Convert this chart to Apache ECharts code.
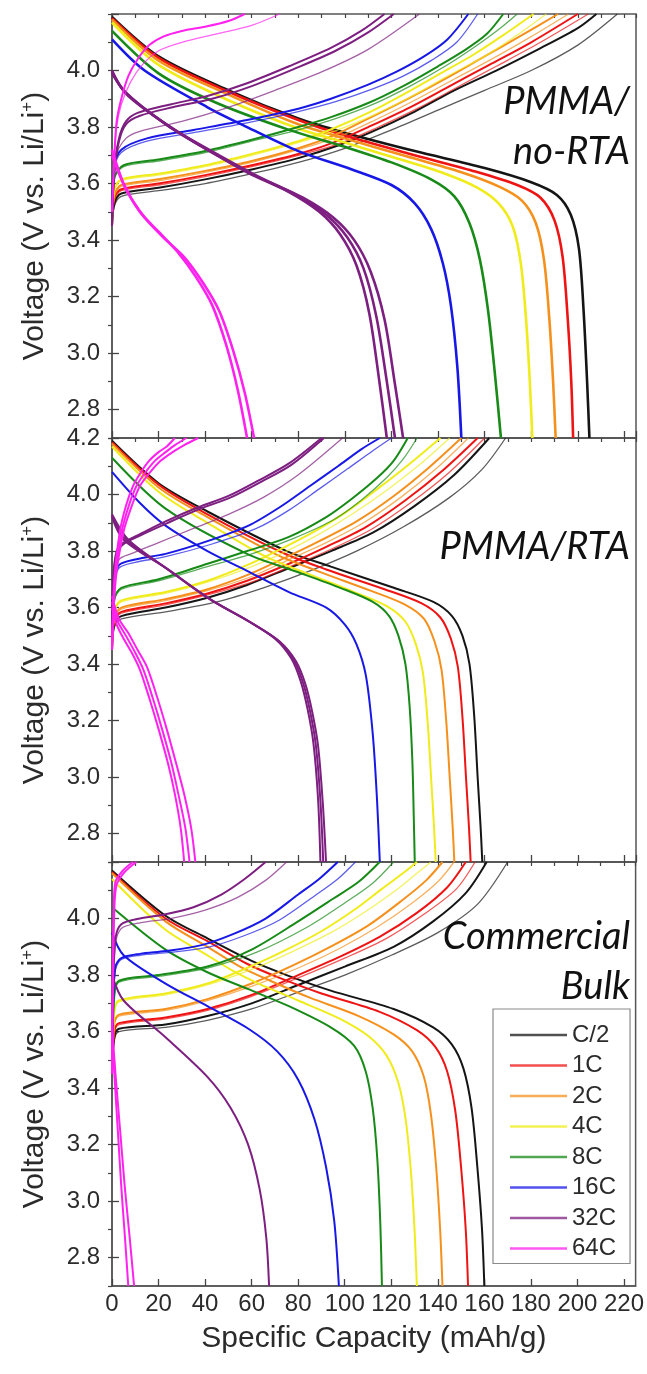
<!DOCTYPE html>
<html>
<head>
<meta charset="utf-8">
<script src="https://cdn.jsdelivr.net/npm/echarts@6/dist/echarts.min.js"></script>
<style>
  html, body { margin: 0; padding: 0; background: #ffffff; }
  #chart { width: 647px; height: 1374px; }
</style>
</head>
<body>
<div id="chart"></div>
<script>
// C-rate series shown in every panel
const RATES = ['C/2', '1C', '2C', '4C', '8C', '16C', '32C', '64C'];
const RATE_COLORS = ['#151515', '#ee1414', '#f5901c', '#f0ec1c', '#178a17', '#1818e6', '#7d1f80', '#ff22ee'];
const PANEL_TITLES = [['PMMA/', 'no-RTA'], ['PMMA/RTA'], ['Commercial', 'Bulk']];
const X_TICKS = [0, 20, 40, 60, 80, 100, 120, 140, 160, 180, 200, 220];
const Y_MAJOR = [2.8, 3.0, 3.2, 3.4, 3.6, 3.8, 4.0, 4.2];

// ---- PMMA / no-RTA : [capacity mAh/g, voltage V] ----
const noRtaDischarge = [
  [[[0,4.19],[20,4.05],[50,3.93],[80,3.83],[100,3.78],[130,3.715],[160,3.655],[180,3.605],[191,3.56],[197,3.49],[200.5,3.37],[202.5,3.15],[204,2.9],[205,2.7]]],
  [[[0,4.185],[20,4.045],[50,3.925],[80,3.825],[100,3.77],[128,3.705],[155,3.645],[174,3.595],[184,3.55],[190,3.47],[193.5,3.34],[195.7,3.12],[197.2,2.9],[198,2.7]]],
  [[[0,4.18],[20,4.035],[50,3.915],[80,3.81],[100,3.76],[125,3.7],[150,3.64],[166,3.59],[176,3.54],[182,3.46],[185.5,3.33],[187.8,3.12],[189.4,2.9],[190.5,2.7]]],
  [[[0,4.17],[20,4.02],[50,3.895],[80,3.795],[100,3.745],[120,3.695],[143,3.635],[157,3.585],[166,3.53],[172,3.45],[175.5,3.32],[177.8,3.12],[179.4,2.9],[180.5,2.7]]],
  [[[0,4.14],[20,3.99],[45,3.885],[76,3.79],[100,3.73],[120,3.675],[137,3.615],[147,3.555],[153.5,3.46],[158,3.33],[161.5,3.15],[164.5,2.92],[167,2.7]]],
  [[[0,4.11],[14,4.0],[41,3.87],[58,3.8],[80,3.715],[103,3.65],[120,3.595],[130,3.53],[137,3.44],[142,3.32],[145.5,3.17],[148.3,2.95],[150,2.7]]],
  [
    [[0,4.0],[5,3.93],[23,3.81],[41,3.72],[58,3.64],[76,3.57],[89,3.5],[98,3.42],[105,3.31],[110.5,3.14],[114.8,2.9],[118,2.7]],
    [[0,3.995],[6,3.92],[25,3.8],[43,3.71],[61,3.63],[79,3.56],[92,3.49],[101,3.41],[108,3.3],[113.5,3.13],[118,2.9],[121.5,2.7]],
    [[0,3.99],[7,3.91],[27,3.79],[46,3.7],[64,3.62],[82,3.55],[95,3.48],[104,3.4],[111,3.29],[117,3.12],[121.5,2.89],[125,2.7]]
  ],
  [
    [[0,3.72],[5,3.6],[12,3.5],[20,3.43],[28,3.36],[36,3.27],[43,3.17],[49,3.03],[54,2.87],[58,2.7]],
    [[0,3.7],[6,3.58],[14,3.48],[22,3.41],[31,3.34],[39,3.25],[46,3.15],[52,3.01],[57,2.86],[61,2.7]]
  ]
];
const noRtaCharge = [
  [[[0,3.45],[1,3.53],[4,3.565],[20,3.585],[40,3.615],[60,3.65],[80,3.69],[97,3.735],[112,3.785],[130,3.855],[147,3.93],[165,4.0],[183,4.075],[200,4.15],[208,4.2]]],
  [[[0,3.45],[1,3.55],[4,3.58],[20,3.6],[40,3.63],[60,3.665],[80,3.705],[95,3.745],[110,3.8],[128,3.87],[145,3.945],[162,4.02],[180,4.1],[200,4.2]]],
  [[[0,3.45],[1,3.56],[4,3.595],[20,3.615],[40,3.645],[60,3.68],[80,3.725],[95,3.77],[110,3.83],[127,3.9],[144,3.975],[160,4.05],[176,4.125],[191.5,4.2]]],
  [[[0,3.45],[1,3.58],[4,3.615],[20,3.635],[40,3.665],[60,3.705],[80,3.75],[95,3.795],[110,3.85],[125,3.915],[140,3.985],[155,4.055],[168,4.125],[181,4.2]]],
  [[[0,3.45],[1,3.62],[5,3.665],[20,3.685],[40,3.715],[60,3.755],[80,3.8],[94,3.835],[110,3.885],[125,3.945],[140,4.015],[152,4.075],[161,4.13],[168,4.2]]],
  [[[0,3.45],[1,3.66],[4,3.72],[15,3.76],[35,3.79],[58,3.825],[80,3.865],[94,3.9],[110,3.95],[122,3.995],[134,4.05],[144,4.11],[153,4.2]]],
  [
    [[0,3.45],[1,3.65],[3,3.76],[6,3.82],[11,3.85],[25,3.88],[41,3.91],[58,3.955],[76,4.015],[94,4.08],[107,4.14],[117,4.2]],
    [[0,3.45],[1,3.64],[3,3.75],[6,3.81],[12,3.84],[26,3.87],[43,3.9],[60,3.945],[78,4.005],[96,4.07],[110,4.135],[121,4.2]]
  ],
  [[[0,3.5],[1,3.7],[2,3.82],[4,3.9],[7,3.98],[11,4.04],[16,4.09],[22,4.12],[30,4.14],[40,4.155],[50,4.175],[57,4.2]]]
];
const noRtaChargeFirst = [
  [[[0,3.45],[1,3.52],[4,3.555],[20,3.575],[40,3.6],[60,3.635],[80,3.675],[100,3.725],[120,3.79],[140,3.86],[160,3.93],[180,4.0],[200,4.09],[217,4.2]]],
  [[[0,3.45],[1,3.54],[4,3.575],[20,3.595],[40,3.625],[60,3.66],[80,3.7],[97,3.74],[113,3.795],[131,3.865],[148,3.94],[165,4.015],[184,4.1],[204.5,4.2]]],
  [[[0,3.45],[1,3.555],[4,3.59],[20,3.61],[40,3.64],[60,3.675],[80,3.72],[97,3.765],[113,3.825],[130,3.895],[147,3.97],[164,4.045],[180,4.12],[196,4.2]]],
  [[[0,3.45],[1,3.575],[4,3.61],[20,3.63],[40,3.66],[60,3.7],[80,3.745],[97,3.79],[113,3.845],[129,3.91],[144,3.98],[160,4.05],[173,4.12],[186.5,4.2]]],
  [[[0,3.45],[1,3.615],[5,3.66],[20,3.68],[40,3.71],[60,3.75],[80,3.79],[96,3.83],[112,3.88],[128,3.945],[143,4.015],[156,4.085],[166,4.145],[174,4.2]]],
  [[[0,3.45],[1,3.65],[4,3.71],[15,3.75],[35,3.78],[58,3.815],[80,3.855],[96,3.89],[112,3.935],[125,3.98],[137,4.035],[148,4.1],[157,4.2]]],
  [[[0,3.45],[2,3.7],[6,3.76],[12,3.785],[30,3.82],[50,3.87],[70,3.93],[90,3.995],[110,4.075],[132,4.2]]],
  [[[0,3.5],[1,3.68],[2,3.8],[4,3.88],[8,3.96],[13,4.02],[20,4.07],[30,4.1],[45,4.13],[60,4.16],[72,4.2]]]
];

// ---- PMMA / RTA ----
const rtaDischarge = [
  [[[0,4.19],[20,4.04],[41,3.94],[75,3.8],[94,3.745],[121,3.67],[138,3.62],[146,3.57],[150.5,3.5],[153.5,3.4],[155.5,3.22],[157,3.0],[158.3,2.82],[159,2.7]]],
  [[[0,4.185],[20,4.035],[41,3.93],[73,3.795],[92,3.735],[117,3.665],[133,3.615],[141,3.565],[145.5,3.49],[148.5,3.39],[150.5,3.21],[152,3.0],[153.3,2.82],[154,2.7]]],
  [[[0,4.18],[20,4.025],[41,3.92],[70,3.79],[88,3.73],[111,3.66],[126,3.61],[134,3.56],[138.5,3.48],[141.5,3.38],[143.5,3.2],[145,3.0],[146.3,2.82],[147,2.7]]],
  [[[0,4.17],[20,4.01],[41,3.9],[66,3.78],[84,3.72],[104,3.655],[118,3.605],[126,3.55],[130.5,3.47],[133.5,3.37],[135.5,3.2],[137,3.0],[138.3,2.82],[139,2.7]]],
  [[[0,4.13],[23,3.95],[58,3.79],[80,3.725],[98,3.67],[112,3.62],[119,3.57],[123,3.5],[126,3.4],[127.8,3.25],[129,3.05],[129.6,2.85],[130,2.7]]],
  [[[0,4.08],[12,3.97],[23,3.89],[41,3.8],[58,3.73],[76,3.655],[92,3.6],[100,3.54],[105,3.47],[109,3.36],[112,3.15],[113.8,2.92],[115,2.7]]],
  [
    [[0,3.92],[5,3.84],[23,3.74],[41,3.635],[58,3.555],[70,3.49],[77,3.42],[81,3.34],[84,3.24],[86.5,3.12],[88.5,2.92],[89.5,2.7]],
    [[0,3.925],[6,3.84],[24,3.735],[42,3.63],[59,3.55],[71,3.485],[78,3.415],[82,3.335],[85,3.235],[87.5,3.115],[89.5,2.915],[90.7,2.7]],
    [[0,3.93],[7,3.84],[25,3.73],[43,3.625],[60,3.545],[72,3.48],[79,3.41],[83,3.33],[86,3.23],[88.5,3.11],[90.5,2.91],[91.9,2.7]]
  ],
  [
    [[0,3.6],[2,3.54],[5,3.49],[8.5,3.44],[12,3.38],[16,3.28],[20,3.17],[24,3.05],[27,2.94],[29.5,2.82],[31,2.7]],
    [[0,3.62],[2.5,3.55],[6,3.5],[10,3.44],[13.5,3.38],[17.5,3.28],[21.5,3.17],[25.5,3.05],[28.5,2.94],[31.5,2.82],[33.3,2.7]],
    [[0,3.64],[3,3.56],[7,3.51],[11,3.45],[15,3.39],[19.5,3.28],[23.5,3.17],[27.5,3.05],[31,2.94],[34,2.82],[35.8,2.7]]
  ]
];
const rtaCharge = [
  [[[0,3.45],[1,3.54],[4,3.57],[23,3.6],[41,3.635],[58,3.68],[76,3.74],[94,3.8],[112,3.865],[130,3.96],[147,4.07],[162,4.2]]],
  [[[0,3.45],[1,3.555],[4,3.585],[23,3.615],[41,3.65],[58,3.695],[76,3.755],[92,3.815],[109,3.885],[126,3.98],[142,4.085],[157,4.2]]],
  [[[0,3.45],[1,3.565],[4,3.6],[23,3.63],[41,3.665],[58,3.715],[74,3.775],[89,3.835],[105,3.905],[121,3.995],[136,4.095],[150,4.2]]],
  [[[0,3.45],[1,3.59],[4,3.625],[23,3.655],[41,3.695],[58,3.75],[72,3.805],[86,3.865],[100,3.935],[114,4.02],[128,4.11],[141,4.2]]],
  [[[0,3.45],[1,3.63],[4,3.67],[20,3.7],[41,3.755],[58,3.8],[76,3.85],[92,3.92],[103,3.985],[114,4.06],[121,4.12],[127,4.2]]],
  [[[0,3.45],[0.7,3.68],[3,3.75],[10,3.77],[23,3.79],[41,3.835],[58.6,3.89],[72,3.955],[85,4.03],[97,4.1],[107,4.16],[115,4.2]]],
  [
    [[0,3.45],[0.5,3.7],[2,3.8],[5,3.83],[12,3.86],[23,3.905],[37,3.955],[50,3.995],[63,4.05],[76,4.11],[90,4.2]],
    [[0,3.45],[0.5,3.69],[2,3.79],[5,3.825],[12,3.855],[24,3.9],[38,3.95],[51,3.99],[64,4.045],[77,4.105],[91,4.2]]
  ],
  [
    [[0,3.45],[1,3.7],[3.4,3.87],[6,3.96],[9,4.03],[12.5,4.08],[16,4.12],[20,4.15],[23.5,4.17],[27,4.2]],
    [[0,3.45],[1.3,3.7],[4.2,3.87],[7.2,3.96],[10.5,4.03],[14.5,4.08],[18.5,4.12],[23,4.15],[27,4.175],[32,4.2]],
    [[0,3.45],[1.6,3.7],[5,3.87],[8.5,3.96],[12,4.03],[16.5,4.08],[21,4.12],[26,4.15],[31,4.175],[37,4.2]]
  ]
];
const rtaChargeFirst = [
  [[[0,3.45],[1,3.53],[4,3.56],[23,3.585],[45,3.62],[65,3.67],[85,3.73],[105,3.8],[125,3.885],[145,3.99],[159,4.09],[169,4.2]]],
  [[[0,3.45],[1,3.55],[4,3.58],[23,3.61],[41,3.645],[60,3.69],[78,3.75],[95,3.81],[112,3.88],[129,3.975],[145,4.08],[160,4.2]]],
  [[[0,3.45],[1,3.56],[4,3.595],[23,3.625],[41,3.66],[60,3.71],[76,3.77],[92,3.83],[108,3.9],[124,3.99],[139,4.09],[153,4.2]]],
  [[[0,3.45],[1,3.585],[4,3.62],[23,3.65],[41,3.69],[60,3.745],[75,3.8],[89,3.86],[103,3.93],[118,4.015],[132,4.105],[145,4.2]]],
  [[[0,3.45],[1,3.625],[4,3.665],[20,3.695],[41,3.745],[60,3.79],[78,3.845],[95,3.91],[107,3.98],[118,4.06],[125,4.125],[131,4.2]]],
  [[[0,3.45],[0.7,3.67],[3,3.74],[10,3.76],[23,3.78],[43,3.825],[62,3.88],[76,3.945],[89,4.02],[101,4.09],[112,4.155],[120,4.2]]],
  [[[0,3.45],[1,3.7],[3,3.77],[8,3.79],[20,3.83],[35,3.88],[50,3.93],[65,3.99],[80,4.07],[99,4.2]]],
  []
];

// ---- Commercial bulk ----
const bulkDischarge = [
  [[[0,4.17],[23,4.01],[41,3.93],[60,3.85],[75,3.8],[94,3.745],[121,3.68],[138,3.615],[146,3.555],[151,3.47],[154.5,3.33],[157,3.12],[159,2.9],[160,2.7]]],
  [[[0,4.165],[23,4.0],[41,3.92],[58,3.84],[72,3.79],[90,3.735],[115,3.67],[131,3.605],[139,3.545],[144,3.46],[147.5,3.32],[150,3.12],[152,2.9],[153,2.7]]],
  [[[0,4.16],[23,3.99],[41,3.9],[55,3.83],[68,3.78],[85,3.72],[106,3.655],[121,3.59],[129,3.53],[134,3.44],[137,3.31],[139.3,3.12],[141,2.9],[142,2.7]]],
  [[[0,4.14],[23,3.96],[41,3.87],[52,3.815],[63,3.77],[80,3.71],[98,3.645],[110,3.585],[118,3.515],[123,3.42],[126,3.3],[128.3,3.12],[130,2.9],[131,2.7]]],
  [[[0,4.04],[23,3.89],[41,3.81],[58.6,3.75],[76,3.69],[94,3.615],[104,3.55],[109,3.46],[112,3.33],[114,3.15],[115.3,2.92],[116,2.7]]],
  [[[0,3.95],[5,3.87],[23,3.77],[41,3.69],[58.6,3.61],[71,3.53],[80,3.43],[87,3.29],[92,3.12],[95.5,2.93],[97.5,2.7]]],
  [[[0,3.8],[5,3.71],[23,3.58],[41,3.44],[51,3.33],[58.5,3.2],[63.5,3.04],[66.3,2.87],[67.5,2.7]]],
  [
    [[0,3.6],[1,3.45],[2.5,3.25],[4,3.05],[5.5,2.88],[7,2.7]],
    [[0,3.62],[1.5,3.45],[3.5,3.25],[5.5,3.05],[7.5,2.88],[9.5,2.7]]
  ]
];
const bulkCharge = [
  [[[0,3.45],[1,3.58],[3,3.61],[23,3.625],[41,3.655],[60,3.7],[80,3.765],[100,3.83],[121,3.9],[138,3.99],[152,4.09],[161,4.2]]],
  [[[0,3.45],[1,3.6],[3,3.63],[23,3.65],[41,3.68],[60,3.73],[80,3.8],[98,3.865],[115,3.935],[131,4.02],[144,4.11],[152,4.2]]],
  [[[0,3.45],[1,3.63],[3,3.66],[23,3.68],[41,3.715],[60,3.77],[78,3.835],[95,3.905],[110,3.975],[124,4.06],[135,4.135],[142,4.2]]],
  [[[0,3.45],[1,3.67],[3,3.71],[23,3.735],[41,3.77],[58,3.825],[75,3.89],[90,3.955],[104,4.03],[116,4.105],[125,4.16],[131,4.2]]],
  [[[0,3.45],[1,3.73],[3,3.78],[20,3.8],[41,3.83],[60,3.89],[80,3.99],[95,4.07],[106,4.13],[115,4.2]]],
  [[[0,3.45],[0.5,3.7],[1.5,3.83],[4,3.86],[12,3.875],[23,3.885],[38,3.905],[52,3.945],[66,4.0],[80,4.085],[89,4.14],[97,4.2]]],
  [[[0,3.45],[0.5,3.75],[1.5,3.93],[4,3.98],[12,4.0],[23,4.015],[35,4.04],[47,4.085],[57,4.14],[66,4.2]]],
  [
    [[0,3.45],[0.3,3.8],[0.8,4.05],[1.5,4.13],[4.7,4.17],[9,4.2]],
    [[0,3.45],[0.4,3.78],[1,4.03],[2,4.12],[5.5,4.165],[10.5,4.2]]
  ]
];
const bulkChargeFirst = [
  [[[0,3.45],[1,3.57],[3,3.6],[23,3.615],[41,3.64],[60,3.68],[80,3.74],[100,3.8],[120,3.87],[140,3.95],[157,4.05],[170,4.2]]],
  [[[0,3.45],[1,3.595],[3,3.625],[23,3.645],[41,3.675],[60,3.725],[80,3.79],[100,3.86],[118,3.93],[134,4.015],[148,4.105],[156,4.2]]],
  [[[0,3.45],[1,3.625],[3,3.655],[23,3.675],[41,3.71],[60,3.76],[80,3.825],[98,3.895],[114,3.97],[129,4.055],[140,4.13],[147,4.2]]],
  [[[0,3.45],[1,3.665],[3,3.705],[23,3.73],[41,3.765],[60,3.82],[78,3.885],[94,3.95],[109,4.025],[122,4.1],[131,4.16],[137,4.2]]],
  [[[0,3.45],[1,3.725],[3,3.775],[20,3.795],[41,3.825],[62,3.88],[84,3.97],[100,4.055],[112,4.125],[121,4.2]]],
  [[[0,3.45],[0.5,3.69],[1.5,3.82],[4,3.855],[12,3.87],[25,3.88],[42,3.9],[57,3.94],[72,3.995],[87,4.08],[97,4.14],[104.6,4.2]]],
  [[[0,3.45],[0.5,3.74],[1.5,3.91],[4,3.965],[12,3.985],[25,4.0],[40,4.03],[54,4.075],[66,4.135],[75,4.2]]],
  []
];

const PANELS = [
  { discharge: noRtaDischarge, charge: noRtaCharge, first: noRtaChargeFirst, dischargeWidth: 2.6 },
  { discharge: rtaDischarge, charge: rtaCharge, first: rtaChargeFirst, dischargeWidth: 2.0 },
  { discharge: bulkDischarge, charge: bulkCharge, first: bulkChargeFirst, dischargeWidth: 2.0 }
];

// ---- layout ----
const PLOT_LEFT = 112, PLOT_RIGHT = 11, PANEL_H = 424, FIRST_TOP = 14;
const FONT = '"Liberation Sans", Arial, sans-serif';
const AXIS_COLOR = '#555555';
const TEXT_COLOR = '#2b2b2b';

const grids = [], xAxes = [], yAxes = [], series = [];

PANELS.forEach((panel, p) => {
  grids.push({
    left: PLOT_LEFT, right: PLOT_RIGHT, top: FIRST_TOP + p * PANEL_H, height: PANEL_H,
    show: true, borderColor: AXIS_COLOR, borderWidth: 1.5, backgroundColor: 'transparent'
  });
});

// primary x axes (major ticks, labels on the bottom panel)
PANELS.forEach((panel, p) => {
  const isBottom = p === PANELS.length - 1;
  xAxes.push({
    type: 'value', gridIndex: p, min: 0, max: 225, interval: 20,
    axisLine: { show: true, lineStyle: { color: AXIS_COLOR, width: 1.5 } },
    axisTick: { show: true, inside: true, length: 7, lineStyle: { color: '#444', width: 1.3 } },
    axisLabel: {
      show: isBottom, showMaxLabel: false, margin: 6,
      fontFamily: FONT, fontSize: 24, color: TEXT_COLOR,
      formatter: v => (X_TICKS.indexOf(v) >= 0 ? String(v) : '')
    },
    splitLine: { show: false },
    name: isBottom ? 'Specific Capacity (mAh/g)' : '',
    nameLocation: 'middle', nameGap: 38,
    nameTextStyle: { fontFamily: FONT, fontSize: 30, color: TEXT_COLOR }
  });
});
// minor x ticks
PANELS.forEach((panel, p) => {
  xAxes.push({
    type: 'value', gridIndex: p, min: 0, max: 225, interval: 10,
    axisLine: { show: false },
    axisTick: { show: true, inside: true, length: 4, lineStyle: { color: '#444', width: 1.2 } },
    axisLabel: { show: false }, splitLine: { show: false }
  });
});

// primary y axes (labels + minor ticks every 0.1 V)
PANELS.forEach((panel, p) => {
  const showTop = p === 1;
  yAxes.push({
    type: 'value', gridIndex: p, min: 2.7, max: 4.2, interval: 0.1,
    axisLine: { show: true, lineStyle: { color: AXIS_COLOR, width: 1.5 } },
    axisTick: { show: true, inside: false, length: 4, lineStyle: { color: '#444', width: 1.2 } },
    axisLabel: {
      margin: 12, fontFamily: FONT, fontSize: 24, color: TEXT_COLOR,
      formatter: v => {
        const t = Math.round(v * 10);
        if (t % 2 !== 0) return '';
        if (t === 42 && !showTop) return '';
        return (t / 10).toFixed(1);
      }
    },
    splitLine: { show: false },
    name: 'Voltage (V vs. Li/Li{sup|+})',
    nameLocation: 'middle', nameGap: 62,
    nameTextStyle: {
      fontFamily: FONT, fontSize: 30, color: TEXT_COLOR,
      rich: { sup: { fontFamily: FONT, fontSize: 17, color: TEXT_COLOR, verticalAlign: 'top', padding: [0, 0, 14, 0] } }
    }
  });
});
// major y ticks
PANELS.forEach((panel, p) => {
  yAxes.push({
    type: 'value', gridIndex: p, min: 2.7, max: 4.2, interval: 0.1,
    axisLine: { show: false },
    axisTick: { show: true, inside: false, length: 7, customValues: Y_MAJOR, lineStyle: { color: '#444', width: 1.3 } },
    axisLabel: { show: false }, splitLine: { show: false }
  });
});

function addCurves(curves, p, r, width, opacity) {
  (curves || []).forEach(pts => {
    series.push({
      name: RATES[r], type: 'line', xAxisIndex: p, yAxisIndex: p,
      data: pts, showSymbol: false, symbol: 'none',
      smooth: 0.3, clip: true,
      color: RATE_COLORS[r],
      lineStyle: { color: RATE_COLORS[r], width: width, opacity: opacity },
      emphasis: { disabled: true }, silent: true, z: 2
    });
  });
}

PANELS.forEach((panel, p) => {
  RATES.forEach((rate, r) => {
    addCurves(panel.first[r], p, r, 1.3, 0.7);
    addCurves(panel.charge[r], p, r, 2.0, 1);
    addCurves(panel.discharge[r], p, r, panel.dischargeWidth, 1);
  });
});

// panel captions
const captionFont = 'italic 38px Lato, "Open Sans", sans-serif';
const captionCenters = [[105, 155], [550], [940, 990]];
const graphics = [];
PANEL_TITLES.forEach((lines, p) => {
  lines.forEach((txt, i) => {
    graphics.push({
      type: 'text', right: 647 - 630, top: captionCenters[p][i] - 22,
      style: { text: txt, font: captionFont, fill: '#111', textAlign: 'right' }, z: 10
    });
  });
});

const chart = echarts.init(document.getElementById('chart'), null, { renderer: 'canvas' });
chart.setOption({
  animation: false,
  backgroundColor: '#ffffff',
  grid: grids,
  xAxis: xAxes,
  yAxis: yAxes,
  legend: {
    data: RATES, orient: 'vertical', left: 493, top: 1009,
    backgroundColor: '#ffffff', borderColor: '#8a8a8a', borderWidth: 1.2,
    padding: [14, 14, 3, 17],
    icon: 'rect', itemWidth: 57, itemHeight: 2.5, itemGap: 6.5,
    itemStyle: { opacity: 0.75 },
    textStyle: { fontFamily: FONT, fontSize: 24, color: TEXT_COLOR, lineHeight: 24, padding: [0, 0, 0, 0] },
    selectedMode: false, z: 20
  },
  graphic: graphics,
  series: series
});
</script>
</body>
</html>
